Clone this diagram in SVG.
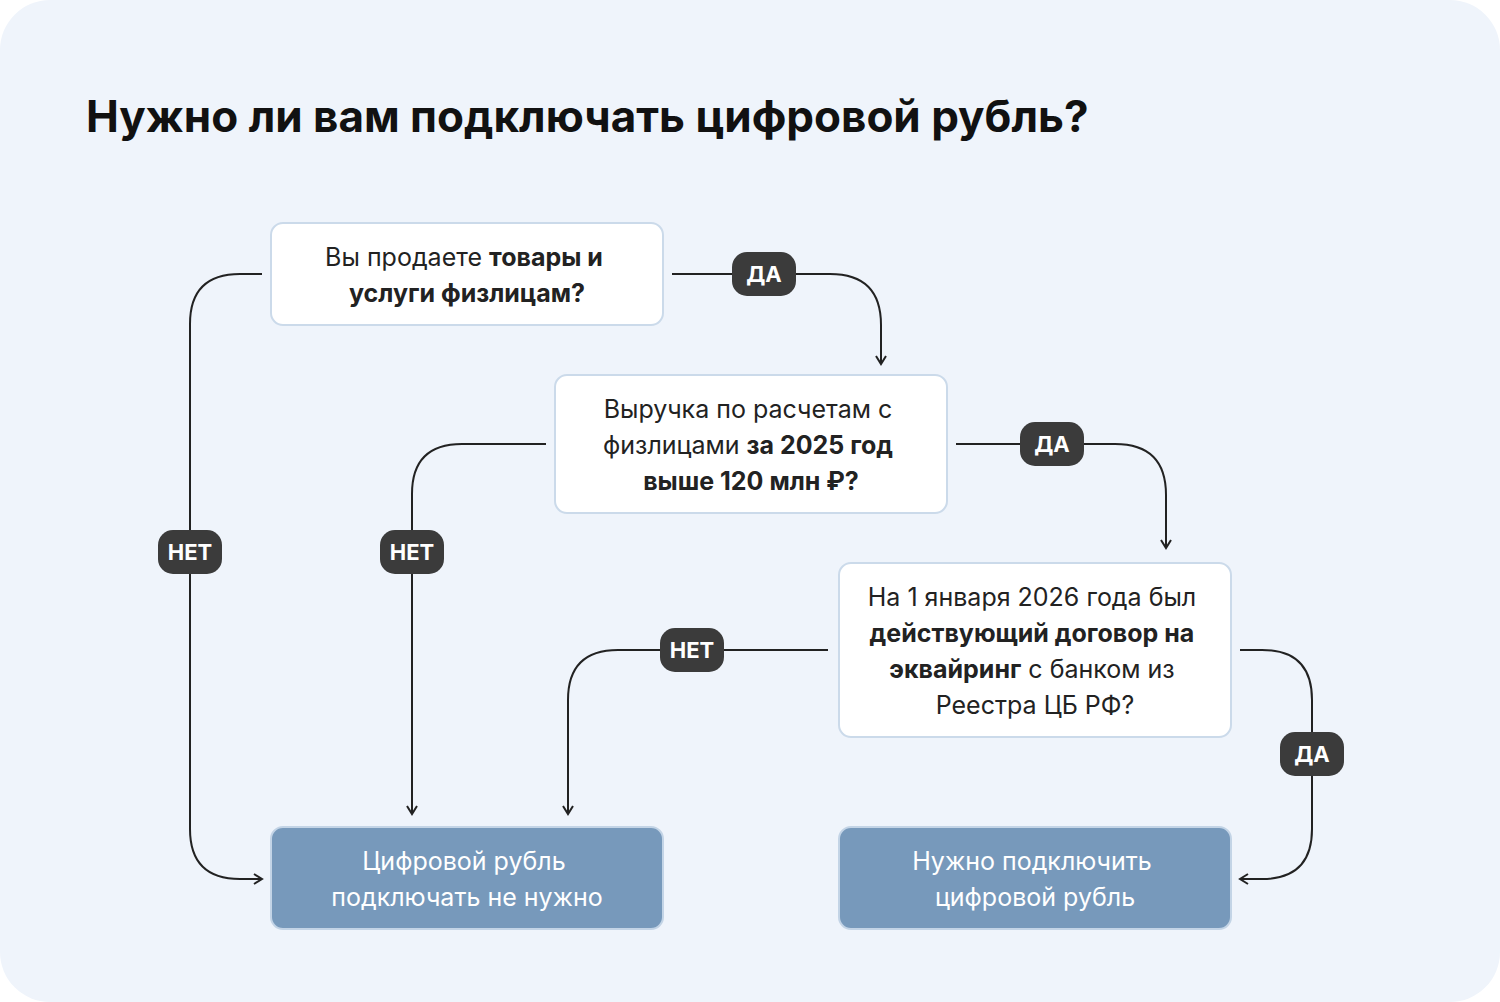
<svg xmlns="http://www.w3.org/2000/svg" width="1500" height="1002" viewBox="0 0 1500 1002">
<style>
text{font-family:Inter,"Noto Sans",sans-serif}
.n{fill:#fff;stroke:#cbdaea;stroke-width:2}
.r{fill:#7799bb;stroke:#c3d4e6;stroke-width:2}
.t{font-size:25px;fill:#222;text-anchor:middle}
.w{font-size:25px;fill:#fff;text-anchor:middle}
.b{font-weight:700}
.c{fill:none;stroke:#222;stroke-width:2}
.lb{fill:#3b3b3b}
.lt{font-size:22px;font-weight:700;fill:#fff;text-anchor:middle}
</style>
<defs><marker id="a" viewBox="0 0 12 12" refX="10" refY="6" markerWidth="12" markerHeight="12" markerUnits="userSpaceOnUse" orient="auto"><path d="M2 1L10 6L2 11" fill="none" stroke="#222" stroke-width="2"/></marker></defs>
<rect width="1500" height="1002" fill="#fff"/>
<rect width="1500" height="1002" rx="50" fill="#eff4fb"/>
<text x="86" y="132" font-size="44" font-weight="700" fill="#111">Нужно ли вам подключать цифровой рубль?</text>
<g id="connectors">
<path class="c" marker-end="url(#a)" d="M672 274H830Q881 274 881 325V364"/>
<path class="c" marker-end="url(#a)" d="M956 444H1115Q1166 444 1166 495V548"/>
<path class="c" marker-end="url(#a)" d="M262 274H240Q190 274 190 324V829Q190 879 240 879H262"/>
<path class="c" marker-end="url(#a)" d="M546 444H462Q412 444 412 494V814"/>
<path class="c" marker-end="url(#a)" d="M828 650H618Q568 650 568 700V814"/>
<path class="c" marker-end="url(#a)" d="M1240 650H1262Q1312 650 1312 700V829Q1312 879 1262 879H1240"/>
<g id="l1"><rect class="lb" x="732" y="252" width="64" height="44" rx="15"/><text class="lt" x="764" y="282">ДА</text></g>
<g id="l2"><rect class="lb" x="1020" y="422" width="64" height="44" rx="15"/><text class="lt" x="1052" y="452">ДА</text></g>
<g id="l3"><rect class="lb" x="158" y="530" width="64" height="44" rx="15"/><text class="lt" x="190" y="560">НЕТ</text></g>
<g id="l4"><rect class="lb" x="380" y="530" width="64" height="44" rx="15"/><text class="lt" x="412" y="560">НЕТ</text></g>
<g id="l5"><rect class="lb" x="660" y="628" width="64" height="44" rx="15"/><text class="lt" x="692" y="658">НЕТ</text></g>
<g id="l6"><rect class="lb" x="1280" y="732" width="64" height="44" rx="15"/><text class="lt" x="1312" y="762">ДА</text></g>
</g>
<g id="q1"><rect class="n" x="271" y="223" width="392" height="102" rx="12"/>
<text class="t" x="464" y="266">Вы продаете <tspan class="b">товары и</tspan></text>
<text class="t b" x="467" y="302">услуги физлицам?</text></g>
<g id="q2"><rect class="n" x="555" y="375" width="392" height="138" rx="12"/>
<text class="t" x="748" y="418">Выручка по расчетам с</text>
<text class="t" x="748" y="454">физлицами <tspan class="b">за 2025 год</tspan></text>
<text class="t b" x="751" y="490">выше 120 млн ₽?</text></g>
<g id="q3"><rect class="n" x="839" y="563" width="392" height="174" rx="12"/>
<text class="t" x="1032" y="606">На 1 января 2026 года был</text>
<text class="t b" x="1032" y="642">действующий договор на</text>
<text class="t" x="1032" y="678"><tspan class="b">эквайринг</tspan> с банком из</text>
<text class="t" x="1035" y="714">Реестра ЦБ РФ?</text></g>
<g id="r1"><rect class="r" x="271" y="827" width="392" height="102" rx="12"/>
<text class="w" x="464" y="870">Цифровой рубль</text>
<text class="w" x="467" y="906">подключать не нужно</text></g>
<g id="r2"><rect class="r" x="839" y="827" width="392" height="102" rx="12"/>
<text class="w" x="1032" y="870">Нужно подключить</text>
<text class="w" x="1035" y="906">цифровой рубль</text></g>
</svg>
